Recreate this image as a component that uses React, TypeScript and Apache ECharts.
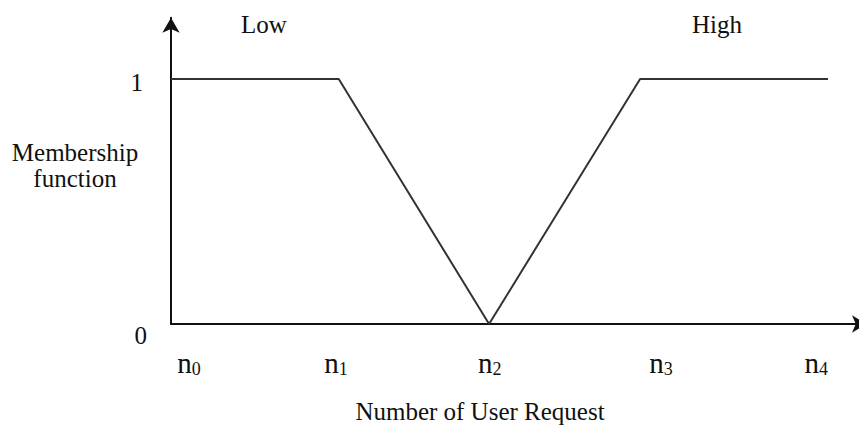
import React, { useEffect, useRef } from "react";
import * as echarts from "echarts";

const lowX = [0, 24.1, 45.7];
const lowY = [1, 1, 0];
const highX = [45.7, 67.4, 94.4];
const highY = [0, 1, 1];
const tickValues = [2.6, 23.7, 45.8, 70.4, 92.7];
const tickSubs = ["0", "1", "2", "3", "4"];
const yTicks = [0, 1];
const seriesNames = ["Low", "High"];
const titleX = [264, 717];

const FONT = "Liberation Serif";

export default function App() {
  const ref = useRef<HTMLDivElement>(null);
  useEffect(() => {
    if (!ref.current) return;
    const chart = echarts.init(ref.current, null, { renderer: "svg" });
    const low = lowX.map((x, i) => [x, lowY[i]]);
    const high = highX.map((x, i) => [x, highY[i]]);
    chart.setOption({
      animation: false,
      backgroundColor: "#ffffff",
      title: seriesNames.map((n, i) => ({
        text: n,
        left: titleX[i],
        top: 12,
        padding: 0,
        textAlign: "center",
        textStyle: { fontFamily: FONT, fontSize: 25, fontWeight: "normal", color: "#111" },
      })),
      grid: { left: 171, right: -8, top: 17.75, bottom: 105, outerBoundsMode: "none", containLabel: false },
      xAxis: {
        type: "value",
        min: 0,
        max: 100,
        name: "Number of User Request",
        nameLocation: "middle",
        nameGap: 75,
        nameMoveOverlap: false,
        nameTextStyle: { fontFamily: FONT, fontSize: 25, color: "#111", align: "center", padding: [0, 78, 0, 0] },
        axisLine: { show: true, symbol: ["none", "arrow"], symbolSize: [13, 15], lineStyle: { color: "#111", width: 2 } },
        axisTick: { show: false },
        splitLine: { show: false },
        axisLabel: {
          customValues: tickValues,
          margin: 24,
          formatter: (v: number) => {
            const i = tickValues.indexOf(v);
            return "{n|n}{s|" + tickSubs[i] + "}";
          },
          rich: {
            n: { fontFamily: FONT, fontSize: 29, color: "#111" },
            s: { fontFamily: FONT, fontSize: 18, color: "#111", padding: [12, 0, 0, 0] },
          },
        },
      },
      yAxis: {
        type: "value",
        min: 0,
        max: 1.25,
        name: "{t|Membership}\n{t|function}\n{g| }",
        nameLocation: "middle",
        nameRotate: 0,
        nameGap: 96,
        nameMoveOverlap: false,
        nameTextStyle: {
          fontFamily: FONT,
          fontSize: 25,
          lineHeight: 26,
          color: "#111",
          align: "center",
          verticalAlign: "middle",
          rich: {
            t: { fontFamily: FONT, fontSize: 25, lineHeight: 26, color: "#111" },
            g: { fontSize: 1, lineHeight: 10, height: 10 },
          },
        },
        axisLine: { show: true, symbol: ["none", "arrow"], symbolSize: [13, 15], lineStyle: { color: "#111", width: 2 } },
        axisTick: { show: false },
        splitLine: { show: false },
        axisLabel: {
          customValues: yTicks,
          margin: 24,
          formatter: (v: number) => (v === 0 ? "{z|0}" : "{o|1}"),
          rich: {
            z: { fontFamily: FONT, fontSize: 25, color: "#111", padding: [22, 0, 0, 0] },
            o: { fontFamily: FONT, fontSize: 25, color: "#111", padding: [6, 4, 0, 0] },
          },
        },
      },
      series: [
        { name: seriesNames[0], type: "line", data: low, symbol: "none", silent: true, lineStyle: { color: "#333", width: 2 } },
        { name: seriesNames[1], type: "line", data: high, symbol: "none", silent: true, lineStyle: { color: "#333", width: 2 } },
      ],
    });
    return () => chart.dispose();
  }, []);
  return <div ref={ref} style={{ width: 859, height: 429, position: "absolute", left: 0, top: 0 }} />;
}
